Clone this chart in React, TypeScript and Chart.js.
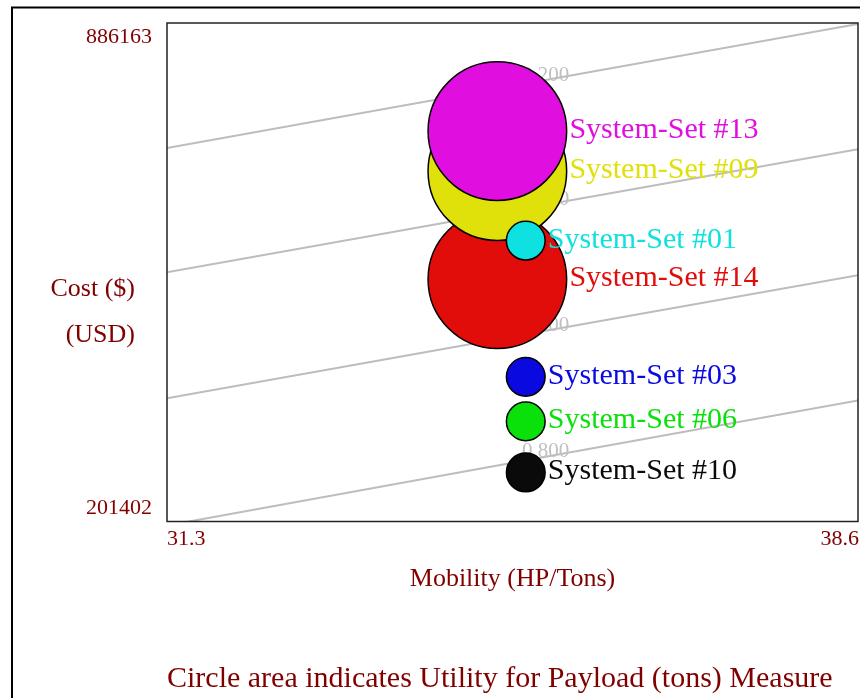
import React, { useEffect, useRef } from "react";
import { Chart, registerables } from "chart.js";

Chart.register(...registerables);

// ---- Data (drawing order: later entries are drawn on top) ----
const systemNames = [
  "System-Set #14",
  "System-Set #09",
  "System-Set #13",
  "System-Set #01",
  "System-Set #03",
  "System-Set #06",
  "System-Set #10",
];
const mobility = [34.79, 34.79, 34.79, 35.09, 35.09, 35.09, 35.09];
const cost = [534157, 682659, 737660, 587095, 400093, 338904, 268778];
const payloadUtility = [1.0, 1.0, 1.0, 0.078, 0.078, 0.078, 0.078];
const systemColors = [
  "#e00d0a",
  "#e0e00a",
  "#e00fe0",
  "#0fe0e0",
  "#0a0ae0",
  "#0ae00a",
  "#0a0a0a",
];

// axis bounds and tick labels
const xMin = 31.3;
const xMax = 38.6;
const yMin = 201402;
const yMax = 886163;
const xTickLabels = ["31.3", "38.6"];
const yTickLabels = ["201402", "886163"];
const xTitle = "Mobility (HP/Tons)";
const yTitleLines = ["Cost ($)", "(USD)"];
const caption = "Circle area indicates Utility for Payload (tons) Measure";

// utility contour lines (iso-utility), sampled at three mobility values
const contourLabels = ["0.200", "0.400", "0.600", "0.800"];
const contourMobility = [31.3, 35.3, 38.6];
const contour200 = [714284, 807786, 884787];
const contour400 = [543782, 636596, 712909];
const contour600 = [370530, 463343, 539657];
const contour800 = [195902, 290228, 367779];

const SERIF = "'Liberation Serif', 'Times New Roman', serif";
const AXIS_TEXT = "#800000";
const MAX_RADIUS = 69.3;

export default function App() {
  const canvasRef = useRef<HTMLCanvasElement | null>(null);

  useEffect(() => {
    const canvas = canvasRef.current;
    if (!canvas) return;

    const contours = [contour200, contour400, contour600, contour800];
    const lineDatasets = contours.map((vals, i) => ({
      type: "line" as const,
      label: contourLabels[i],
      data: vals.map((v, j) => ({ x: contourMobility[j], y: v })),
      borderColor: "#bdbdbd",
      borderWidth: 2,
      pointRadius: 0,
      fill: false,
      tension: 0,
      order: 10,
    }));

    const maxU = Math.max(...payloadUtility);
    const bubbleDataset = {
      type: "bubble" as const,
      label: "systems",
      data: systemNames.map((_, i) => ({
        x: mobility[i],
        y: cost[i],
        r: MAX_RADIUS * Math.sqrt(payloadUtility[i] / maxU),
      })),
      backgroundColor: systemColors,
      borderColor: "#000000",
      borderWidth: 1.5,
      order: 0,
      clip: false as const,
    };

    const textPlugin = {
      id: "textPlugin",
      afterDatasetDraw(chart: any, args: any) {
        const meta = args.meta;
        if (meta.type !== "line") return;
        const ctx = chart.ctx;
        const idx = args.index;
        const pt = meta.data[1];
        if (!pt) return;
        ctx.save();
        ctx.font = `21px ${SERIF}`;
        ctx.fillStyle = "#c0c0c0";
        ctx.textAlign = "center";
        ctx.textBaseline = "middle";
        ctx.fillText(contourLabels[idx], pt.x, pt.y - 5);
        ctx.restore();
      },
      afterDraw(chart: any) {
        const ctx = chart.ctx;
        const a = chart.chartArea;
        const xs = chart.scales.x;
        const ys = chart.scales.y;
        ctx.save();

        // outer frame
        ctx.strokeStyle = "#000";
        ctx.lineWidth = 2;
        ctx.strokeRect(12, 7.5, 900, 800);

        // plot frame
        ctx.strokeStyle = "#222";
        ctx.lineWidth = 1.5;
        ctx.strokeRect(a.left, a.top, a.right - a.left, a.bottom - a.top);

        // bubble labels
        const bmeta = chart.getDatasetMeta(chart.data.datasets.length - 1);
        ctx.font = `30px ${SERIF}`;
        ctx.textAlign = "left";
        ctx.textBaseline = "alphabetic";
        bmeta.data.forEach((el: any, i: number) => {
          const r = el.options.radius + 0.75;
          ctx.fillStyle = systemColors[i];
          ctx.fillText(systemNames[i], el.x + r + 2, el.y + 7);
        });

        // tick labels
        ctx.fillStyle = AXIS_TEXT;
        ctx.font = `22px ${SERIF}`;
        ctx.textAlign = "right";
        ctx.fillText(yTickLabels[1], 152, ys.getPixelForValue(yMax) + 20);
        ctx.fillText(yTickLabels[0], 152, ys.getPixelForValue(yMin) - 8);
        ctx.textAlign = "left";
        ctx.fillText(xTickLabels[0], xs.getPixelForValue(xMin), 545);
        ctx.textAlign = "right";
        ctx.fillText(xTickLabels[1], xs.getPixelForValue(xMax) + 1, 545);

        // axis titles
        ctx.font = `26px ${SERIF}`;
        ctx.textAlign = "center";
        ctx.fillText(xTitle, (a.left + a.right) / 2, 586);
        ctx.textAlign = "right";
        ctx.fillText(yTitleLines[0], 135, 296);
        ctx.fillText(yTitleLines[1], 135, 342);

        // caption
        ctx.font = `30px ${SERIF}`;
        ctx.textAlign = "left";
        ctx.fillText(caption, 167, 687);

        ctx.restore();
      },
    };

    const chart = new Chart(canvas, {
      type: "bubble",
      data: { datasets: [...lineDatasets, bubbleDataset] as any },
      options: {
        responsive: false,
        animation: false,
        events: [],
        layout: {
          autoPadding: false,
          padding: { left: 167, top: 23, right: 2, bottom: 176.5 },
        },
        scales: {
          x: { type: "linear", min: xMin, max: xMax, display: false },
          y: { type: "linear", min: yMin, max: yMax, display: false },
        },
        plugins: {
          legend: { display: false },
          tooltip: { enabled: false },
        },
      } as any,
      plugins: [textPlugin],
    });

    return () => chart.destroy();
  }, []);

  return (
    <div style={{ position: "fixed", left: 0, top: 0, width: 860, height: 698, background: "#fff" }}>
      <canvas ref={canvasRef} width={860} height={698} style={{ display: "block" }} />
    </div>
  );
}
